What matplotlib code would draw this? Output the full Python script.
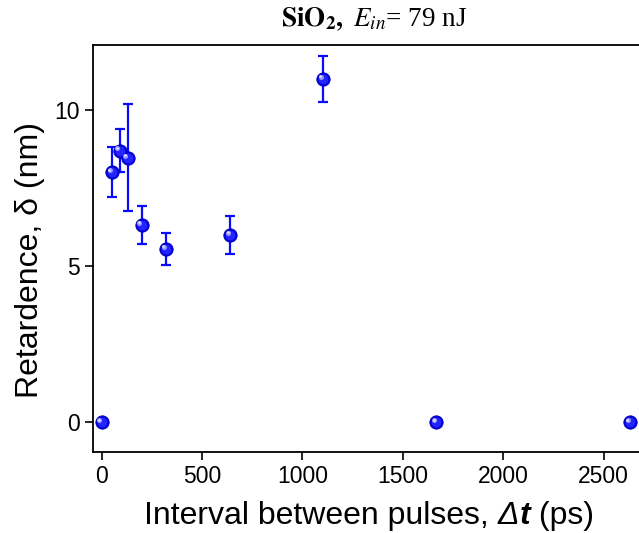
import matplotlib
matplotlib.use("Agg")
import matplotlib.pyplot as plt
import matplotlib.transforms as mtransforms
from matplotlib.offsetbox import TextArea, HPacker, AnnotationBbox
import numpy as np

# Data
delay_ps = [0, 50, 89, 129, 199, 320, 641, 1103, 1667, 2632]
retard_nm = [0, 8.0, 8.7, 8.47, 6.32, 5.55, 6.0, 11.0, 0, 0]
err_nm = [0, 0.8, 0.7, 1.72, 0.62, 0.52, 0.62, 0.74, 0, 0]
xticks = [0, 500, 1000, 1500, 2000, 2500]
yticks = [0, 5, 10]

plt.rcParams['font.family'] = ['Liberation Sans', 'DejaVu Sans']

W, H = 639, 533
fig = plt.figure(figsize=(W / 100, H / 100), dpi=100)
# axes in pixel coordinates: left 92.3, right beyond figure, top 45, bottom 452.3
x_left = -45.5
x_right = 2740
px_per_ps = (603.5 - 101.7) / 2500
left_px = 101.7 + x_left * px_per_ps
right_px = 101.7 + x_right * px_per_ps
ax_w_px = right_px - left_px
ax = fig.add_axes([left_px / W, 1 - 452.3 / H, ax_w_px / W, (452.3 - 45) / H])
ax.set_xlim(x_left, x_right)
ax.set_ylim(-0.96, 12.08)

x = np.array(delay_ps, dtype=float)
y = np.array(retard_nm, dtype=float)
e = np.array(err_nm, dtype=float)
m = e > 0

blue = '#0a0aff'
ax.errorbar(x[m], y[m], yerr=e[m], fmt='none', ecolor=blue, elinewidth=1.6,
            capsize=3.8, capthick=1.6, zorder=2)
ax.plot(x, y, 'o', ms=9.6, mfc='#0000e6', mec='#0000b0', mew=0.6, zorder=3, clip_on=False)
ax.plot(x, y, 'o', ms=7.0, mfc='#2424ff', mec='none', zorder=4, clip_on=False)
off = mtransforms.ScaledTranslation(-1.6 / 72, 1.6 / 72, fig.dpi_scale_trans)
ax.plot(x, y, 'o', ms=3.6, mfc='#9a9aff', mec='none', zorder=5, clip_on=False,
        transform=ax.transData + off)
off2 = mtransforms.ScaledTranslation(-1.9 / 72, 1.9 / 72, fig.dpi_scale_trans)
ax.plot(x, y, 'o', ms=1.8, mfc='#e8e8ff', mec='none', zorder=6, clip_on=False,
        transform=ax.transData + off2)

ax.set_xticks(xticks)
ax.set_yticks(yticks)
ax.tick_params(direction='out', length=5.5, width=1.2, labelsize=16.5, pad=3.5, colors='black')
for s in ax.spines.values():
    s.set_linewidth(1.3)

# x label with mixed styles (italic Δ, bold-italic t)
fs = 23
parts = [
    TextArea('Interval between pulses, ', textprops=dict(fontsize=fs)),
    TextArea('Δ', textprops=dict(fontsize=fs, style='italic')),
    TextArea('t', textprops=dict(fontsize=fs, style='italic', weight='bold')),
    TextArea(' (ps)', textprops=dict(fontsize=fs)),
]
xlab = HPacker(children=parts, align='baseline', pad=0, sep=0)
ab = AnnotationBbox(xlab, (369, H - 516), xycoords='figure pixels',
                    box_alignment=(0.5, 0.5), frameon=False, annotation_clip=False)
fig.add_artist(ab)

ax.set_ylabel('Retardence, δ (nm)', fontsize=23, labelpad=7)
ax.yaxis.label.set_y((452.3 - 260) / (452.3 - 45))

fig.text(374 / W, 1 - 19 / H, r'$\mathbf{SiO_2,}\ \mathit{E}_{\mathit{in}}$= 79 nJ',
         family='Liberation Serif', math_fontfamily='stix', fontsize=19.5,
         ha='center', va='center')

fig.savefig('out.png', dpi=100)
